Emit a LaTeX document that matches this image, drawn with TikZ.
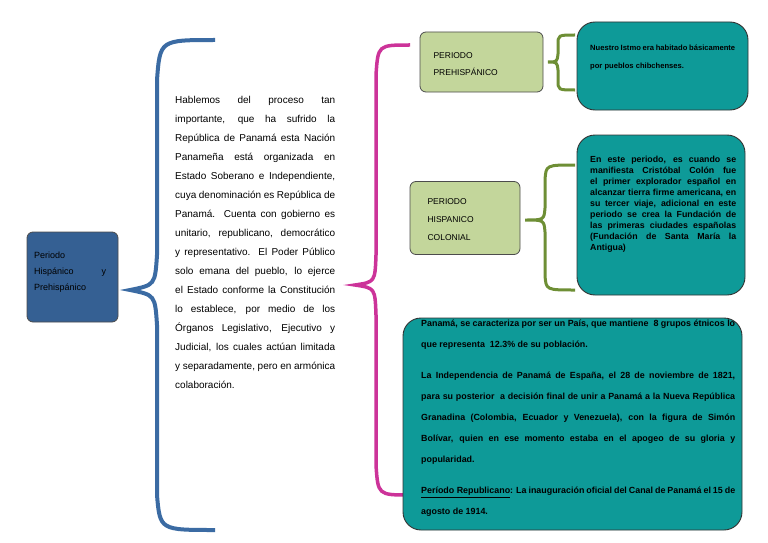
\documentclass[tikz,border=0pt]{standalone}
\usepackage{fontspec}
\setmainfont{Liberation Sans}
\begin{document}
\hyphenpenalty=10000 \exhyphenpenalty=10000
\begin{tikzpicture}[x=1pt,y=-1pt,
  greenbox/.style={draw=black!70,fill=green1,rounded corners=6pt,line width=0.8pt},
  tealbox/.style={draw=black!80,fill=teal1,rounded corners=18pt,line width=0.9pt},
  txt/.style={anchor=north west,inner sep=0pt,align=justify}]
\definecolor{green1}{HTML}{C3D69B}
\definecolor{teal1}{HTML}{0E9A98}
\definecolor{blue1}{HTML}{3B6BA3}
\definecolor{mag}{HTML}{CC3399}
\definecolor{brgreen}{HTML}{6E8F35}
\useasboundingbox (0,0) rectangle (768,543);
% left box
\node[draw=black!70,fill=blue1!90!black,rounded corners=6pt,minimum width=91pt,minimum height=90pt,line width=0.8pt] (root) at (72.5,277) {};
\node[txt,text width=72pt,font=\fontsize{9}{16}\selectfont,align=left] (roott) at (34,252) {Periodo\\Hisp\'anico\hfill y\\Prehisp\'anico};
% braces
\draw[blue1,line width=4pt] (215,40) .. controls (160,40) .. (157,80) -- (157,255) .. controls (155,285) .. (130,290) .. controls (155,295) .. (157,325) -- (157,495) .. controls (160,530) .. (215,530);
\draw[mag,line width=3.5pt] (410,45) .. controls (378,45) .. (376,75) -- (376,255) .. controls (375,282) .. (355,285) .. controls (375,288) .. (376,315) -- (376,465) .. controls (378,495) .. (410,495);
\draw[brgreen,line width=3pt] (575,35) .. controls (558,35) .. (558,45) -- (558,54) .. controls (557,62) .. (548,62) .. controls (557,62) .. (558,70) -- (558,80) .. controls (558,90) .. (575,90);
\draw[brgreen,line width=3pt] (575,165) .. controls (546,165) .. (545,180) -- (545,208) .. controls (544,220) .. (525,220) .. controls (544,220) .. (545,232) -- (545,275) .. controls (546,290) .. (575,290);
% main text
\node[txt,text width=160pt,font=\fontsize{10}{19}\selectfont] (main) at (175,96) {Hablemos del proceso tan importante, que ha sufrido la Rep\'ublica de Panam\'a esta Naci\'on Paname\~na est\'a organizada en Estado Soberano e Independiente, cuya denominaci\'on es Rep\'ublica de Panam\'a. Cuenta con gobierno es unitario, republicano, democr\'atico y representativo. El Poder P\'ublico solo emana del pueblo, lo ejerce el Estado conforme la Constituci\'on lo establece, por medio de los \'Organos Legislativo, Ejecutivo y Judicial, los cuales act\'uan limitada y separadamente, pero en arm\'onica colaboraci\'on.};
% green boxes
\node[greenbox,minimum width=123pt,minimum height=60pt] (pre) at (481.5,62) {};
\node[anchor=west,align=left,font=\fontsize{8.5}{17}\selectfont] (pret) at (430,64) {PERIODO\\PREHISP\'ANICO};
\node[greenbox,minimum width=110pt,minimum height=73pt] (col) at (465,218) {};
\node[anchor=west,align=left,font=\fontsize{8.5}{18}\selectfont] (colt) at (424,220) {PERIODO\\HISPANICO\\COLONIAL};
% teal boxes
\node[tealbox,minimum width=171pt,minimum height=88pt] (t1) at (662.5,66) {};
\node[txt,text width=145pt,font=\bfseries\fontsize{7.6}{18}\selectfont] (t1t) at (590,45) {Nuestro Istmo era habitado b\'asicamente por pueblos chibchenses.};
\node[tealbox,minimum width=168pt,minimum height=160pt] (t2) at (661,215) {};
\node[txt,text width=146pt,font=\bfseries\fontsize{8.8}{11}\selectfont] (t2t) at (590,156) {En este periodo, es cuando se manifiesta Crist\'obal Col\'on fue el primer explorador espa\~nol en alcanzar tierra firme americana, en su tercer viaje, adicional en este periodo se crea la Fundaci\'on de las primeras ciudades espa\~nolas (Fundaci\'on de Santa Mar\'ia la Antigua)};
\node[tealbox,minimum width=339pt,minimum height=212pt] (t3) at (572.5,424) {};
\node[txt,text width=314pt,font=\bfseries\fontsize{8.9}{21}\selectfont] (t3t) at (421,320) {Panam\'a, se caracteriza por ser un Pa\'is, que mantiene\ \ 8 grupos \'etnicos lo que representa\ \ 12.3\% de su poblaci\'on.\par\vspace{10pt}
La Independencia de Panam\'a de Espa\~na, el 28 de noviembre de 1821, para su posterior\ \ a decisi\'on final de unir a Panam\'a a la Nueva Rep\'ublica Granadina (Colombia, Ecuador y Venezuela), con la figura de Sim\'on Bol\'ivar, quien en ese momento estaba en el apogeo de su gloria y popularidad.\par\vspace{10pt}
\underline{Per\'iodo Republicano}: La inauguraci\'on oficial del Canal de Panam\'a el 15 de agosto de 1914.};
\end{tikzpicture}
\end{document}
